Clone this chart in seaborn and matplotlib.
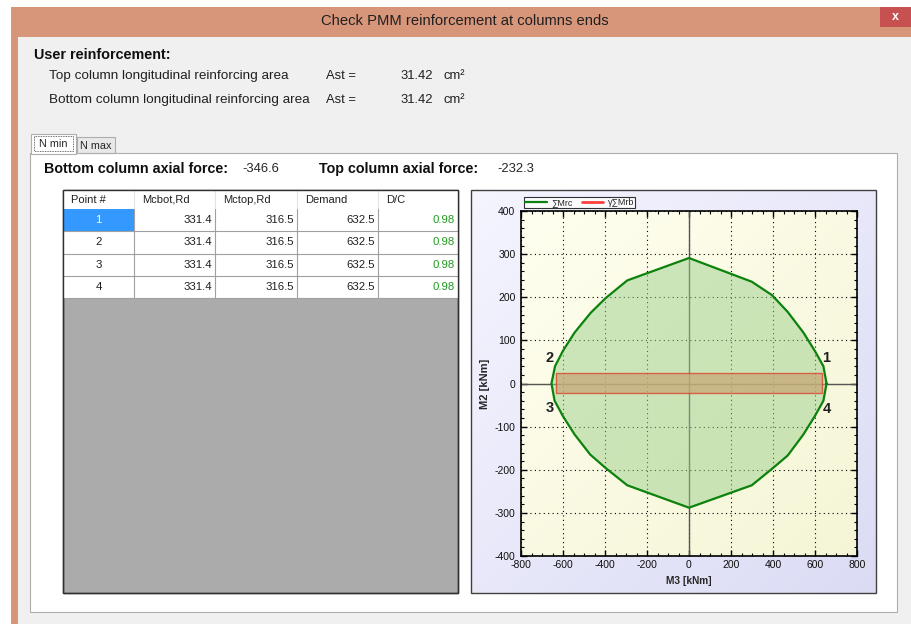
import numpy as np
import matplotlib
matplotlib.use("Agg")
import matplotlib.pyplot as plt
import seaborn as sns
import pandas as pd
from matplotlib.patches import Rectangle
from matplotlib.ticker import MultipleLocator

sns.set_style("white")
plt.rcParams['font.family'] = ['Liberation Sans', 'DejaVu Sans']
plt.rcParams['axes.unicode_minus'] = False

# ---------------- data ----------------
title = "Check PMM reinforcement at columns ends"
ast_labels = ["Top column longitudinal reinforcing area", "Bottom column longitudinal reinforcing area"]
ast_values = [31.42, 31.42]
bottom_axial = -346.6
top_axial = -232.3
tabs = ["N min", "N max"]

table_cols = ["Point #", "Mcbot,Rd", "Mctop,Rd", "Demand", "D/C"]
point_ids = [1, 2, 3, 4]
mcbot = [331.4, 331.4, 331.4, 331.4]
mctop = [316.5, 316.5, 316.5, 316.5]
demand = [632.5, 632.5, 632.5, 632.5]
dc = [0.98, 0.98, 0.98, 0.98]

# interaction domain (sum Mrc) M3 / M2 [kNm]
mrc_m3 = [655, 640, 600, 545, 470, 395, 299, 0, -294, -397, -468, -545, -600, -638, -655,
          -640, -600, -545, -470, -397, -294, 0, 299, 395, 470, 545, 600, 640, 655]
mrc_m2 = [0, 40, 75, 118, 166, 205, 236, 291, 239, 198, 164, 118, 76, 40, 0,
          -40, -76, -118, -165, -196, -236, -288, -236, -198, -167, -118, -75, -40, 0]
# gamma * sum Mrb demand box
mrb_m3 = [-632.5, 632.5]
mrb_m2 = [-23, 25]
# numbered points
pt_labels = ["1", "2", "3", "4"]
pt_m3 = [652, -666, -661, 655]
pt_m2 = [59, 59, -57, -60]

# ---------------- figure ----------------
W, H = 911, 624
fig = plt.figure(figsize=(W / 100, H / 100), dpi=100)
bg = fig.add_axes([0, 0, 1, 1])
bg.set_xlim(0, W)
bg.set_ylim(H, 0)
bg.axis("off")

def rect(x0, y0, x1, y1, fc, ec="none", lw=0.0, z=1, **kw):
    bg.add_patch(Rectangle((x0, y0), x1 - x0, y1 - y0, facecolor=fc, edgecolor=ec, lw=lw, zorder=z, **kw))

# window frame
rect(11, 7, W, H, "#D7957A", z=0)
rect(18, 37, W, H, "#F0F0F0", z=1)
rect(880, 7, W, 27, "#C75050", z=2)
bg.text(895, 17, "x", color="white", fontsize=9, ha="center", va="center", zorder=3, fontweight="bold")
bg.text(465, 21, title, fontsize=10.6, ha="center", va="center", color="#202020", zorder=3)

# user reinforcement block
bg.text(34, 55, "User reinforcement:", fontsize=10.4, fontweight="bold", va="center", color="#101010", zorder=3)
for i, (lab, val) in enumerate(zip(ast_labels, ast_values)):
    y = 76 + 24 * i
    bg.text(49, y, lab, fontsize=9.7, va="center", color="#202020", zorder=3)
    bg.text(326, y, "Ast =", fontsize=9.4, va="center", color="#202020", zorder=3)
    bg.text(433, y, f"{val:.2f}", fontsize=9.4, va="center", ha="right", color="#202020", zorder=3)
    bg.text(443, y, "cm²", fontsize=9.4, va="center", color="#202020", zorder=3)

# tab control
rect(30, 153, 897, 612, "white", ec="#ADADAD", lw=0.8, z=2)
rect(77, 137, 115, 153, "#E8E8E8", ec="#ADADAD", lw=0.8, z=2)
rect(31, 134, 76, 154, "white", ec="#ADADAD", lw=0.8, z=3)
rect(34, 136, 73, 151, "none", ec="#404040", lw=0.6, z=4, linestyle=(0, (1, 1)))
bg.text(53, 144, tabs[0], fontsize=7.8, ha="center", va="center", zorder=5)
bg.text(96, 146, tabs[1], fontsize=7.8, ha="center", va="center", zorder=5)

bg.text(44, 169, "Bottom column axial force:", fontsize=10.3, fontweight="bold", va="center", zorder=3, color="#101010")
bg.text(242, 169, f"{bottom_axial}", fontsize=9.4, va="center", zorder=3)
bg.text(319, 169, "Top column axial force:", fontsize=10.3, fontweight="bold", va="center", zorder=3, color="#101010")
bg.text(497, 169, f"{top_axial}", fontsize=9.4, va="center", zorder=3)

# table grid
tx = [63, 134, 215, 297, 378, 458]
ty0, ty1 = 190, 593
rect(tx[0], ty0, tx[-1], ty1, "#ABABAB", ec="#303030", lw=1.0, z=3)
rect(tx[0], ty0, tx[-1], 209, "white", z=4)
for j, c in enumerate(table_cols):
    bg.text(tx[j] + 8, 200, c, fontsize=8, va="center", zorder=6, color="#202020")
    if j > 0:
        bg.plot([tx[j], tx[j]], [ty0 + 1, 209], color="#E3E3E3", lw=0.8, zorder=5)
row_h = 22.3
df = pd.DataFrame({"pt": point_ids, "bot": mcbot, "top": mctop, "dem": demand, "dc": dc})
for i, r in df.iterrows():
    y0 = 209 + i * row_h
    y1 = y0 + row_h
    rect(tx[0], y0, tx[-1], y1, "white", z=4)
    if i == 0:
        rect(tx[0], y0, tx[1], y1, "#3399FF", z=4.5)
    for j in range(1, 5):
        bg.plot([tx[j], tx[j]], [y0, y1], color="#A0A0A0", lw=0.8, zorder=5)
    bg.plot([tx[0], tx[-1]], [y1, y1], color="#A0A0A0", lw=0.8, zorder=5)
    cy = (y0 + y1) / 2
    bg.text((tx[0] + tx[1]) / 2, cy, str(int(r["pt"])), fontsize=8.2, ha="center", va="center",
            color="white" if i == 0 else "#202020", zorder=6)
    bg.text(tx[2] - 3, cy, f"{r['bot']:.1f}", fontsize=8.2, ha="right", va="center", zorder=6, color="#202020")
    bg.text(tx[3] - 3, cy, f"{r['top']:.1f}", fontsize=8.2, ha="right", va="center", zorder=6, color="#202020")
    bg.text(tx[4] - 3, cy, f"{r['dem']:.1f}", fontsize=8.2, ha="right", va="center", zorder=6, color="#202020")
    bg.text(tx[5] - 3, cy, f"{r['dc']:.2f}", fontsize=8.2, ha="right", va="center", zorder=6, color="#1E9A1E")
bg.add_patch(Rectangle((tx[0], ty0), tx[-1] - tx[0], ty1 - ty0, fill=False, ec="#303030", lw=1.0, zorder=7))

# chart box with gradient
cx0, cx1, cy0, cy1 = 471, 876, 190, 593
gx, gy = np.meshgrid(np.linspace(0, 1, 64), np.linspace(0, 1, 64))
t = (gx + gy) / 2
c_a = np.array([0.96, 0.96, 1.0])
c_b = np.array([0.86, 0.86, 0.96])
img = c_a[None, None, :] * (1 - t[..., None]) + c_b[None, None, :] * t[..., None]
bg.imshow(img, extent=(cx0, cx1, cy1, cy0), aspect="auto", zorder=3, interpolation="bilinear")
bg.add_patch(Rectangle((cx0, cy0), cx1 - cx0, cy1 - cy0, fill=False, ec="#404040", lw=1.0, zorder=7))
bg.set_xlim(0, W)
bg.set_ylim(H, 0)

# ---------------- chart ----------------
ax_l, ax_r, ax_t, ax_b = 521, 857, 211, 556
ax = fig.add_axes([ax_l / W, 1 - ax_b / H, (ax_r - ax_l) / W, (ax_b - ax_t) / H])
ax.set_xlim(-800, 800)
ax.set_ylim(-400, 400)
ya = np.array([1.0, 1.0, 0.94])
yb = np.array([0.96, 0.96, 0.84])
img2 = ya[None, None, :] * (1 - t[..., None]) + yb[None, None, :] * t[..., None]
ax.imshow(img2, extent=(-800, 800, -400, 400), aspect="auto", zorder=0, interpolation="bilinear")

ax.grid(True, which="major", color="black", linestyle=(0, (1, 3)), lw=0.8, zorder=1)
ax.axhline(0, color="#555555", lw=1.0, zorder=2)
ax.axvline(0, color="#555555", lw=1.0, zorder=2)

ax.fill(mrc_m3, mrc_m2, color="#9CD08C", alpha=0.5, zorder=3, lw=0)
dom = pd.DataFrame({"M3": mrc_m3, "M2": mrc_m2})
sns.lineplot(data=dom, x="M3", y="M2", sort=False, estimator=None, color="#0C820C", lw=1.6,
             ax=ax, zorder=5, label="∑Mrc")
ax.add_patch(Rectangle((mrb_m3[0], mrb_m2[0]), mrb_m3[1] - mrb_m3[0], mrb_m2[1] - mrb_m2[0],
                       facecolor="#C8A878", alpha=0.75, edgecolor="#E03A2A", lw=1.0, zorder=4))
ax.plot([], [], color="#FF4040", lw=2, label="γ∑Mrb")

for lab, x, y in zip(pt_labels, pt_m3, pt_m2):
    ax.text(x, y, lab, fontsize=10.5, fontweight="bold", ha="center", va="center", zorder=6, color="#202020")

ax.xaxis.set_major_locator(MultipleLocator(200))
ax.xaxis.set_minor_locator(MultipleLocator(50))
ax.yaxis.set_major_locator(MultipleLocator(100))
ax.yaxis.set_minor_locator(MultipleLocator(20))
ax.tick_params(which="both", direction="in", top=True, right=True, bottom=True, left=True, color="black")
ax.tick_params(which="major", length=4, width=1, labelsize=7.5, labelcolor="#101010")
ax.tick_params(axis="x", which="major", pad=3)
ax.tick_params(axis="y", which="major", pad=4)
ax.tick_params(which="minor", length=2, width=0.8)
for s in ax.spines.values():
    s.set_color("black")
    s.set_linewidth(1.2)
ax.set_xlabel("M3 [kNm]", fontsize=7.3, fontweight="bold", labelpad=4)
ax.set_ylabel("M2 [kNm]", fontsize=8, fontweight="bold", labelpad=3)

leg = ax.legend(loc="lower left", bbox_to_anchor=(0.0, 1.0), ncol=2, fontsize=6.5, frameon=True,
                fancybox=False, borderpad=0.1, handlelength=2.4, handletextpad=0.5, columnspacing=1.0,
                borderaxespad=0.35)
leg.get_frame().set_edgecolor("black")
leg.get_frame().set_linewidth(0.8)
leg.get_frame().set_facecolor("white")

fig.savefig("out.png", dpi=100)
